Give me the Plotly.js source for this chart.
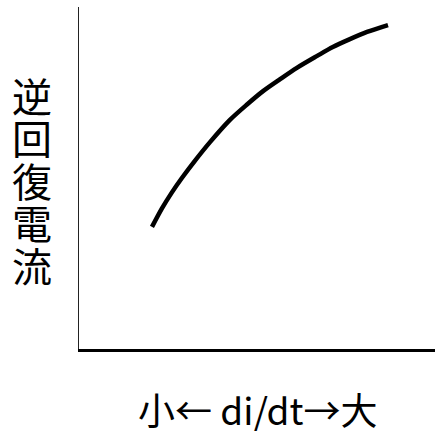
<!DOCTYPE html>
<html>
<head>
<meta charset="utf-8">
<script src="https://cdn.plot.ly/plotly-3.0.1.min.js"></script>
<style>html,body{margin:0;padding:0;background:#fff;}#chart{width:435px;height:433px;}</style>
</head>
<body>
<div id="chart"></div>
<script>
// di/dt (relative, small -> large)
const didt = [20.5, 23.3, 26.1, 28.9, 32.6, 36.8, 42.4, 47.2, 51.7, 56.5, 61.2, 66.9, 71.3, 76.1, 80.9, 86.8];
// reverse recovery current (relative)
const irr = [35.7, 41.1, 45.8, 50.0, 55.1, 60.5, 67.0, 71.5, 75.4, 78.9, 82.2, 85.7, 88.3, 90.6, 92.7, 94.7];
const yLabelChars = ["逆", "回", "復", "電", "流"];
const xLabelText = "小← di/dt→大";

const font = '"Noto Sans CJK JP", "Noto Sans", sans-serif';

const data = [{
  x: didt, y: irr, type: 'scatter', mode: 'lines',
  line: {color: '#000', width: 4.5, shape: 'spline', smoothing: 0.8},
  hoverinfo: 'skip'
}];

const plotL = 79, plotW = 356, plotB = 349, plotH = 342;
const px = v => (v - plotL) / plotW;
const py = v => (plotB - v) / plotH;

const annotations = yLabelChars.map((ch, i) => ({
  text: ch, xref: 'paper', yref: 'paper',
  x: px(32), y: py(94.5 + i * 42.5), xanchor: 'center', yanchor: 'middle',
  showarrow: false, borderpad: 0, height: 42, valign: 'middle',
  font: {family: font, size: 40, color: '#000'}
}));
annotations.push({
  text: xLabelText, xref: 'paper', yref: 'paper',
  x: px(258), y: py(409), xanchor: 'center', yanchor: 'middle',
  showarrow: false, borderpad: 0, height: 44, valign: 'middle',
  font: {family: font, size: 37, color: '#000'}
});

const layout = {
  width: 435, height: 433,
  margin: {l: plotL, r: 0, t: 7, b: 84},
  paper_bgcolor: '#fff', plot_bgcolor: '#fff',
  showlegend: false,
  xaxis: {range: [0, 100], showline: true, linecolor: '#000', linewidth: 2.5,
          showgrid: false, zeroline: false, showticklabels: false, ticks: ''},
  yaxis: {range: [0, 100], showline: true, linecolor: '#222', linewidth: 1.5,
          showgrid: false, zeroline: false, showticklabels: false, ticks: ''},
  annotations: annotations
};

Plotly.newPlot('chart', data, layout, {displayModeBar: false, staticPlot: true});
</script>
</body>
</html>
